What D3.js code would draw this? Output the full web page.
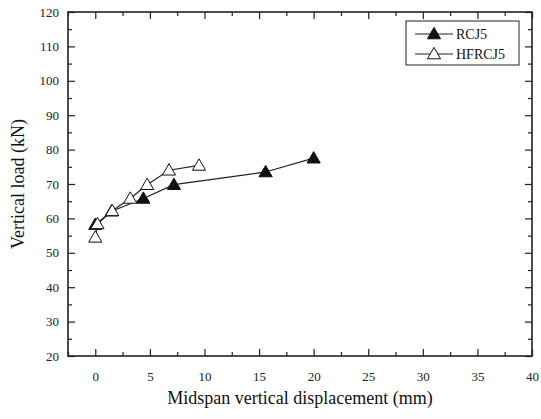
<!DOCTYPE html>
<html>
<head>
<meta charset="utf-8">
<script src="https://cdn.jsdelivr.net/npm/d3@7"></script>
<style>
  html, body { margin: 0; padding: 0; background: #fff; }
</style>
</head>
<body>
<svg id="chart" width="541" height="419"></svg>
<script>
// Load–displacement data for the two joint specimens
const seriesNames = ["RCJ5", "HFRCJ5"];
const rcj5Disp = [0, 1.5, 4.4, 7.2, 15.6, 20.0];
const rcj5Load = [58.2, 62.1, 65.8, 69.8, 73.5, 77.5];
const hfrcj5Disp = [0, 0.2, 1.55, 3.2, 4.75, 6.75, 9.5];
const hfrcj5Load = [54.5, 58.4, 62.2, 65.8, 69.8, 74.0, 75.4];
const xTickValues = [0, 5, 10, 15, 20, 25, 30, 35, 40];
const yTickValues = [20, 30, 40, 50, 60, 70, 80, 90, 100, 110, 120];

const FONT = "'Times New Roman', Tinos, 'Liberation Serif', 'DejaVu Serif', serif";
const svg = d3.select("#chart");
const L = 68, R = 532, T = 12, B = 356;

const x = d3.scaleLinear().domain([-2.5, 40]).range([L, R]);
const y = d3.scaleLinear().domain([20, 120]).range([B, T]);

const axisColor = "#222";
const major = 7, minor = 4;
const xMinor = d3.range(-2.5, 40.01, 2.5).filter(v => !xTickValues.includes(v));
const yMinor = d3.range(25, 120, 10);

function styleAxis(g) {
  g.attr("font-family", null);
  g.selectAll("path.domain").remove();
  g.selectAll("line").attr("stroke", axisColor).attr("stroke-width", 1.2);
  g.selectAll("text").attr("fill", "#222").style("font-size", "13px").style("font-family", FONT);
}

// bottom axis (inward ticks, labels below)
svg.append("g").attr("transform", `translate(0,${B})`)
  .call(d3.axisBottom(x).tickValues(xTickValues).tickSize(-major).tickPadding(16).tickFormat(d3.format("d")))
  .call(styleAxis);
svg.append("g").attr("transform", `translate(0,${B})`)
  .call(d3.axisBottom(x).tickValues(xMinor).tickSize(-minor).tickFormat(""))
  .call(styleAxis);

// top axis mirrored ticks
svg.append("g").attr("transform", `translate(0,${T})`)
  .call(d3.axisTop(x).tickValues(xTickValues).tickSize(-major).tickFormat(""))
  .call(styleAxis);
svg.append("g").attr("transform", `translate(0,${T})`)
  .call(d3.axisTop(x).tickValues(xMinor).tickSize(-minor).tickFormat(""))
  .call(styleAxis);

// left axis
svg.append("g").attr("transform", `translate(${L},0)`)
  .call(d3.axisLeft(y).tickValues(yTickValues).tickSize(-major).tickPadding(9).tickFormat(d3.format("d")))
  .call(styleAxis);
svg.append("g").attr("transform", `translate(${L},0)`)
  .call(d3.axisLeft(y).tickValues(yMinor).tickSize(-minor).tickFormat(""))
  .call(styleAxis);

// right axis mirrored ticks
svg.append("g").attr("transform", `translate(${R},0)`)
  .call(d3.axisRight(y).tickValues(yTickValues).tickSize(-major).tickFormat(""))
  .call(styleAxis);
svg.append("g").attr("transform", `translate(${R},0)`)
  .call(d3.axisRight(y).tickValues(yMinor).tickSize(-minor).tickFormat(""))
  .call(styleAxis);

// frame
svg.append("rect").attr("x", L).attr("y", T).attr("width", R - L).attr("height", B - T)
  .attr("fill", "none").attr("stroke", axisColor).attr("stroke-width", 1.6);

// axis titles
svg.append("text").attr("x", (L + R) / 2).attr("y", 404).attr("text-anchor", "middle")
  .style("font-family", FONT).style("font-size", "18px").attr("fill", "#111")
  .text("Midspan vertical displacement (mm)");
svg.append("text").attr("transform", `translate(24,${(T + B) / 2}) rotate(-90)`)
  .attr("text-anchor", "middle").style("font-family", FONT).style("font-size", "18px").attr("fill", "#111")
  .text("Vertical load (kN)");

// series
const tri = d3.symbol().type(d3.symbolTriangle).size(75);
const line = d3.line().x(d => x(d[0])).y(d => y(d[1]));
const series = [
  { name: seriesNames[0], pts: rcj5Disp.map((d, i) => [d, rcj5Load[i]]), fill: "#111" },
  { name: seriesNames[1], pts: hfrcj5Disp.map((d, i) => [d, hfrcj5Load[i]]), fill: "#fff" }
];

series.forEach(s => {
  svg.append("path").attr("d", line(s.pts)).attr("fill", "none")
    .attr("stroke", "#222").attr("stroke-width", 1.2);
});
series.forEach(s => {
  svg.append("g").selectAll("path").data(s.pts).join("path")
    .attr("d", tri)
    .attr("transform", d => `translate(${x(d[0])},${y(d[1]) + 1})`)
    .attr("fill", s.fill).attr("stroke", "#111").attr("stroke-width", 1);
});

// legend
const lg = svg.append("g");
lg.append("rect").attr("x", 406).attr("y", 21).attr("width", 113).attr("height", 44)
  .attr("fill", "#fff").attr("stroke", "#222").attr("stroke-width", 1);
series.forEach((s, i) => {
  const yy = 34 + i * 20;
  lg.append("line").attr("x1", 415).attr("x2", 453).attr("y1", yy).attr("y2", yy)
    .attr("stroke", "#222").attr("stroke-width", 1.2);
  lg.append("path").attr("d", tri).attr("transform", `translate(434,${yy + 1})`)
    .attr("fill", s.fill).attr("stroke", "#111").attr("stroke-width", 1);
  lg.append("text").attr("x", 456).attr("y", yy + 5)
    .style("font-family", FONT).style("font-size", "14px").attr("fill", "#111").text(s.name);
});
</script>
</body>
</html>
